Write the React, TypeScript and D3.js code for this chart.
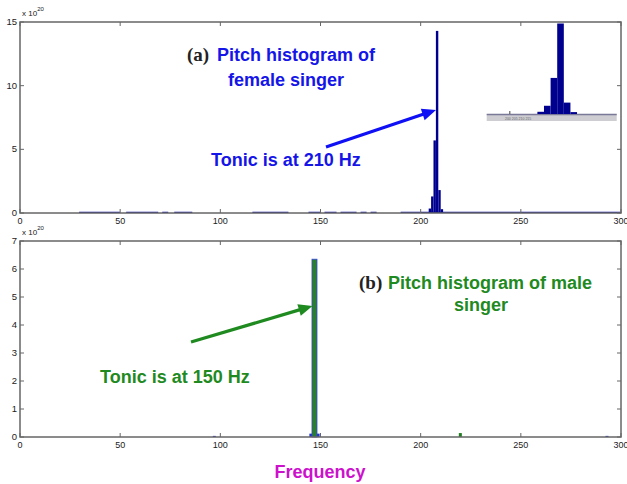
import React from "react";
import * as d3 from "d3";

// ---------- data ----------
const xTicks = [0, 50, 100, 150, 200, 250, 300];
const topYTicks = [0, 5, 10, 15];
const bottomYTicks = [0, 1, 2, 3, 4, 5, 6, 7];

// female pitch histogram (x 1e20): bin centers (Hz) and counts
const femaleCenters = [204.6, 205.8, 207.0, 208.2, 209.4, 210.6];
const femaleValues = [0.35, 1.3, 5.7, 14.3, 1.8, 0.3];
const femaleBinWidth = 1.2;
// near-zero stretches of the female histogram (start Hz, end Hz)
const femaleLowStart = [29.5, 53, 71, 77, 116, 144, 152, 160, 170, 175, 190];
const femaleLowEnd = [50, 69, 74, 86, 134, 150, 158, 168, 173, 178, 300];
const femaleLowValue = 0.06;

// male pitch histogram (x 1e20)
const maleCenters = [147.0];
const maleValues = [6.35];
const maleBinWidth = 2.5;
const maleSmallCenters = [97, 145.2, 148.8, 219.8, 293];
const maleSmallValues = [0.04, 0.12, 0.12, 0.14, 0.04];
const maleSmallColors = ["#2233cc", "#2233cc", "#2233cc", "#1e7d1e", "#2233cc"];

const insetTickLabels = ["200", "205", "210", "215"];

// ---------- layout ----------
const W = 627;
const H = 484;
const left = 20;
const right = 621;
const topA = 22;
const botA = 213;
const topB = 241;
const botB = 437;

const blueText = "#1515e8";
const greenText = "#1f8a1f";
const axisCol = "#666";

const x = d3.scaleLinear().domain([0, 300]).range([left, right]);
const yA = d3.scaleLinear().domain([0, 15]).range([botA, topA]);
const yB = d3.scaleLinear().domain([0, 7]).range([botB, topB]);

// inset scales
const insetX = d3.scaleLinear().domain([194.8, 218.4]).range([486.7, 616.7]);
const insetY = d3.scaleLinear().domain([0, 14.3]).range([114, 23.5]);

function Arrow({ x1, y1, x2, y2, color }: { x1: number; y1: number; x2: number; y2: number; color: string }) {
  const dx = x2 - x1;
  const dy = y2 - y1;
  const len = Math.sqrt(dx * dx + dy * dy);
  const ux = dx / len;
  const uy = dy / len;
  const hl = 14;
  const hw = 6;
  const bx = x2 - ux * hl;
  const by = y2 - uy * hl;
  const px = -uy;
  const py = ux;
  const pts = `${x2},${y2} ${bx + px * hw},${by + py * hw} ${bx - px * hw},${by - py * hw}`;
  return (
    <g>
      <line x1={x1} y1={y1} x2={bx + ux * 2} y2={by + uy * 2} stroke={color} strokeWidth={3.2} />
      <polygon points={pts} fill={color} />
    </g>
  );
}

function Frame({ top, bottom, y, yTicks }: { top: number; bottom: number; y: d3.ScaleLinear<number, number>; yTicks: number[] }) {
  const tl = 4;
  return (
    <g>
      <rect x={left} y={top} width={right - left} height={bottom - top} fill="none" stroke={axisCol} strokeWidth={1.5} />
      {xTicks.map((t) => (
        <g key={"x" + t}>
          <line x1={x(t)} x2={x(t)} y1={bottom} y2={bottom - tl} stroke={axisCol} strokeWidth={1} />
          <line x1={x(t)} x2={x(t)} y1={top} y2={top + tl} stroke={axisCol} strokeWidth={1} />
          <text x={x(t)} y={bottom + 11} fontSize={9} textAnchor="middle" fill="#222" fontFamily="Liberation Sans, Arial, sans-serif">
            {t}
          </text>
        </g>
      ))}
      {yTicks.map((t) => (
        <g key={"y" + t}>
          <line x1={left} x2={left + tl} y1={y(t)} y2={y(t)} stroke={axisCol} strokeWidth={1} />
          <line x1={right} x2={right - tl} y1={y(t)} y2={y(t)} stroke={axisCol} strokeWidth={1} />
          <text x={left - 3} y={y(t) + 3} fontSize={9.5} textAnchor="end" fill="#222" fontFamily="Liberation Sans, Arial, sans-serif">
            {t}
          </text>
        </g>
      ))}
      <text x={left + 2} y={top - 6} fontSize={8} fill="#222" fontFamily="Liberation Sans, Arial, sans-serif">
        x 10
        <tspan dy={-5} fontSize={6}>
          20
        </tspan>
      </text>
    </g>
  );
}

export default function App() {
  const bold = "Liberation Sans, Arial, sans-serif";
  const fs = 18;
  return (
    <div style={{ position: "absolute", left: 0, top: 0 }}>
      <svg width={W} height={H} viewBox={`0 0 ${W} ${H}`} style={{ display: "block", background: "#fff" }}>
        <rect width={W} height={H} fill="#fff" />

        {/* ---------- panel (a) ---------- */}
        {femaleLowStart.map((s, i) => (
          <rect
            key={"fl" + i}
            x={x(s)}
            width={x(femaleLowEnd[i]) - x(s)}
            y={yA(femaleLowValue) - 0.5}
            height={botA - yA(femaleLowValue) + 0.5}
            fill="#1a1aa8"
          />
        ))}
        {femaleCenters.map((c, i) => (
          <rect
            key={"fb" + i}
            x={x(c - femaleBinWidth / 2)}
            width={x(c + femaleBinWidth / 2) - x(c - femaleBinWidth / 2)}
            y={yA(femaleValues[i])}
            height={botA - yA(femaleValues[i])}
            fill="#00008f"
          />
        ))}
        <Frame top={topA} bottom={botA} y={yA} yTicks={topYTicks} />

        {/* inset */}
        <rect x={insetX.range()[0]} y={114} width={insetX.range()[1] - insetX.range()[0]} height={7} fill="#cdcdd2" />
        <line x1={insetX.range()[0]} x2={insetX.range()[1]} y1={114.5} y2={114.5} stroke="#7a7a98" strokeWidth={1.5} />
        {femaleCenters.map((c, i) => (
          <rect
            key={"ib" + i}
            x={insetX(c - femaleBinWidth / 2)}
            width={insetX(c + femaleBinWidth / 2) - insetX(c - femaleBinWidth / 2)}
            y={insetY(femaleValues[i])}
            height={114 - insetY(femaleValues[i])}
            fill="#00008f"
          />
        ))}
        <line x1={insetX(199)} x2={insetX(199)} y1={114} y2={111} stroke="#444" strokeWidth={1} />
        <text x={insetX(200.5)} y={120} fontSize={3.5} fill="#666" textAnchor="middle" fontFamily={bold}>
          {insetTickLabels.join(" ")}
        </text>

        {/* annotations (a) */}
        <text x={187} y={61} fontSize={19} fontWeight="bold" fill="#222" fontFamily="Liberation Serif, Times New Roman, serif">
          (a)
        </text>
        <text x={217} y={61} fontSize={fs} fontWeight="bold" fill={blueText} fontFamily={bold}>
          Pitch histogram of
        </text>
        <text x={286} y={86} fontSize={fs} fontWeight="bold" fill={blueText} fontFamily={bold} textAnchor="middle">
          female singer
        </text>
        <text x={211} y={166} fontSize={fs} fontWeight="bold" fill={blueText} fontFamily={bold}>
          Tonic is at 210 Hz
        </text>
        <Arrow x1={326} y1={147} x2={436} y2={110} color="#1010f5" />

        {/* ---------- panel (b) ---------- */}
        {maleSmallCenters.map((c, i) => (
          <rect
            key={"ms" + i}
            x={x(c) - 1.5}
            width={3}
            y={yB(maleSmallValues[i])}
            height={botB - yB(maleSmallValues[i])}
            fill={maleSmallColors[i]}
          />
        ))}
        {maleCenters.map((c, i) => (
          <rect
            key={"mb" + i}
            x={x(c - maleBinWidth / 2)}
            width={x(c + maleBinWidth / 2) - x(c - maleBinWidth / 2)}
            y={yB(maleValues[i])}
            height={botB - yB(maleValues[i])}
            fill="#2a7f2a"
            stroke="#3344dd"
            strokeWidth={0.8}
          />
        ))}
        <Frame top={topB} bottom={botB} y={yB} yTicks={bottomYTicks} />

        <text x={359} y={289} fontSize={19} fontWeight="bold" fill="#222" fontFamily="Liberation Serif, Times New Roman, serif">
          (b)
        </text>
        <text x={388} y={289} fontSize={fs} fontWeight="bold" fill={greenText} fontFamily={bold}>
          Pitch histogram of male
        </text>
        <text x={481} y={311} fontSize={fs} fontWeight="bold" fill={greenText} fontFamily={bold} textAnchor="middle">
          singer
        </text>
        <text x={100} y={383} fontSize={fs} fontWeight="bold" fill={greenText} fontFamily={bold}>
          Tonic is at 150 Hz
        </text>
        <Arrow x1={191} y1={342} x2={312.5} y2={306} color="#1f8a1f" />

        <text x={320} y={478} fontSize={18} fontWeight="bold" fill="#cc11cc" fontFamily={bold} textAnchor="middle">
          Frequency
        </text>
      </svg>
    </div>
  );
}
